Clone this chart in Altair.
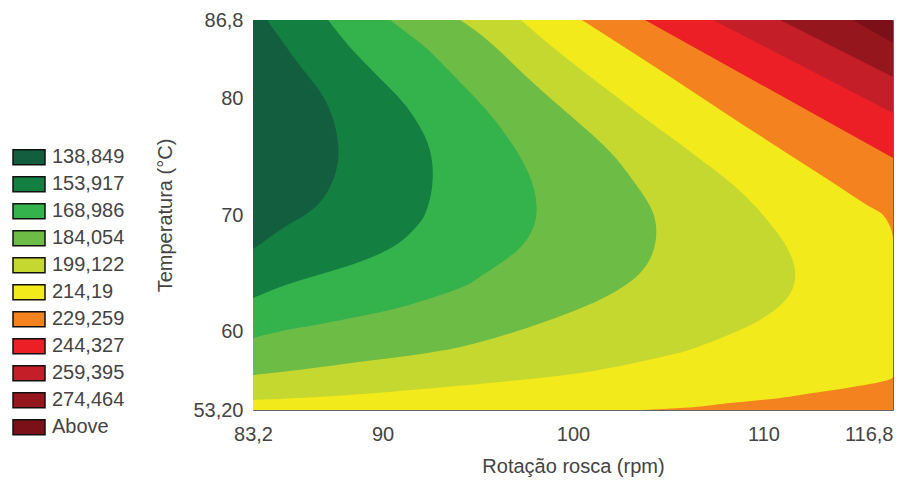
import altair as alt
import pandas as pd

X_MIN, X_MAX = 83.2, 116.8
Y_MIN, Y_MAX = 53.2, 86.8

levels = ["138,849", "153,917", "168,986", "184,054", "199,122", "214,19",
          "229,259", "244,327", "259,395", "274,464", "Above"]
colors = ["#125e3e", "#138041", "#34b24b", "#6dbc45", "#c4d830", "#f2ea1a",
          "#f4821f", "#ec1f26", "#c41e29", "#96161e", "#7a1118"]

# Boundary of each region "value <= level": rotation (x) reached at each temperature (y).
# Contours that leave through the left edge continue slightly past it (clipped).
b138_t = [65.5, 66.5, 67.67, 68.28, 69.14, 70.0, 71.12, 72.84, 74.31, 75.77, 78.01, 80.08, 81.46, 83.18, 84.39, 86.8]
b138_r = [81.9, 82.7, 83.73, 84.25, 84.99, 85.98, 86.82, 87.40, 87.66, 87.72, 87.51, 86.98, 86.35, 85.51, 84.99, 83.94]

b153_t = [61.8, 62.3, 63.11, 63.97, 64.83, 65.69, 66.55, 67.42, 68.28, 69.14, 70.0, 72.33, 74.31, 75.77, 77.15, 78.62, 80.08, 81.46, 82.92, 84.39, 86.8]
b153_r = [81.7, 82.4, 83.57, 84.83, 86.61, 88.40, 89.76, 90.76, 91.39, 91.86, 92.28, 92.65, 92.65, 92.49, 92.13, 91.60, 90.92, 90.03, 89.19, 88.29, 87.14]

b168_t = [58.3, 58.7, 59.40, 60.09, 60.52, 61.13, 61.64, 62.42, 63.80, 64.23, 65.69, 67.16, 68.54, 70.0, 72.33, 74.31, 75.77, 78.62, 81.46, 82.92, 84.39, 85.51, 86.8]
b168_r = [80.8, 81.6, 83.2, 84.78, 86.56, 88.29, 90.03, 91.81, 94.33, 94.70, 96.06, 97.32, 97.85, 98.16, 98.01, 97.48, 96.96, 95.75, 94.07, 93.18, 92.34, 91.44, 90.39]

b184_t = [55.7, 55.95, 56.22, 56.47, 57.25, 57.94, 58.63, 59.92, 61.39, 62.85, 64.23, 65.69, 67.16, 68.54, 70.0, 71.47, 72.84, 74.31, 75.77, 77.15, 78.62, 80.08, 81.46, 82.92, 84.39, 85.77, 86.8]
b184_r = [80.2, 81.6, 83.2, 84.78, 88.29, 91.81, 94.33, 96.96, 99.58, 101.68, 103.10, 103.94, 104.30, 104.41, 104.30, 103.83, 103.20, 102.57, 101.79, 100.84, 99.84, 98.79, 97.85, 96.90, 96.01, 95.01, 94.07]

b199_t = [53.75, 53.9, 54.06, 54.32, 54.75, 55.36, 55.79, 56.22, 56.65, 57.25, 58.11, 58.54, 59.92, 61.39, 62.85, 64.23, 65.69, 67.16, 68.54, 70.0, 71.47, 72.84, 74.31, 75.60, 77.07, 78.62, 81.46, 84.39, 86.8]
b199_r = [78.8, 81.0, 83.2, 86.72, 90.39, 94.59, 97.22, 99.74, 101.42, 103.26, 105.62, 106.41, 108.66, 110.34, 111.34, 111.71, 111.66, 111.29, 110.71, 109.98, 109.19, 108.24, 107.09, 106.04, 104.83, 103.52, 101.26, 98.95, 97.27]

b214_t = [53.2, 53.37, 53.81, 54.24, 54.67, 55.10, 56.04, 62.0, 67.85, 70.0, 70.86, 72.84, 75.77, 78.62, 81.80, 86.8]
b214_r = [103.68, 105.62, 108.24, 110.87, 112.60, 114.39, 116.8, 116.8, 116.8, 116.28, 115.43, 113.59, 110.81, 108.14, 105.20, 100.47]

b229_t = [53.2, 74.91, 86.8]
b229_r = [116.8, 116.8, 103.78]

b244_t = [53.2, 78.79, 86.8]
b244_r = [116.8, 116.8, 107.35]

b259_t = [53.2, 81.89, 86.8]
b259_r = [116.8, 116.8, 110.87]

b274_t = [53.2, 84.82, 86.8]
b274_r = [116.8, 116.8, 114.7]

above_t = [53.2, 86.8]
above_r = [116.8, 116.8]

bounds = {
    "138,849": (b138_t, b138_r), "153,917": (b153_t, b153_r),
    "168,986": (b168_t, b168_r), "184,054": (b184_t, b184_r),
    "199,122": (b199_t, b199_r), "214,19": (b214_t, b214_r),
    "229,259": (b229_t, b229_r), "244,327": (b244_t, b244_r),
    "259,395": (b259_t, b259_r), "274,464": (b274_t, b274_r),
    "Above": (above_t, above_r),
}
curve_kind = {"138,849": "basis", "153,917": "basis", "168,986": "basis",
              "184,054": "basis", "199,122": "basis", "214,19": "monotone"}

rows = []
for lev, (ts, rs) in bounds.items():
    for t, r in zip(ts, rs):
        rows.append({"level": lev, "temp": t, "rpm": r})
df = pd.DataFrame(rows).sort_values(["level", "temp"])

FONT = "Liberation Sans"
TXT = "#444444"
FS = 20

x_enc = alt.X("rpm:Q", stack=None,
              scale=alt.Scale(domain=[X_MIN, X_MAX], nice=False, zero=False),
              axis=alt.Axis(title="Rotação rosca (rpm)", values=[83.2, 90, 100, 110, 116.8],
                            labelExpr="datum.value < 84 ? '83,2' : datum.value > 116 ? '116,8' : datum.label",
                            labelFlush=False,
                            labelAlign=alt.expr("datum.value > 116 ? 'right' : 'center'"),
                            labelPadding=14, titlePadding=12))
y_enc = alt.Y("temp:Q",
              scale=alt.Scale(domain=[Y_MIN, Y_MAX], nice=False, zero=False),
              axis=alt.Axis(title="Temperatura (°C)", values=[53.2, 60, 70, 80, 86.8],
                            labelExpr="datum.value < 54 ? '53,20' : datum.value > 86 ? '86,8' : datum.label",
                            labelFlush=False, labelPadding=10, titlePadding=17))
c_enc = alt.Color("level:N",
                  scale=alt.Scale(domain=levels, range=colors),
                  legend=alt.Legend(orient="none", legendX=-241, legendY=124, title=None,
                                    symbolType="M-1,-0.47H1V0.47H-1Z", symbolSize=1024,
                                    symbolStrokeColor="#111", symbolStrokeWidth=1.5,
                                    labelFontSize=FS, labelColor=TXT, labelFont=FONT,
                                    labelOffset=6, clipHeight=26.6, rowPadding=0))

layers = []
for lev in reversed(levels):
    layers.append(
        alt.Chart(df).transform_filter(alt.datum.level == lev)
        .mark_area(orient="horizontal", interpolate=curve_kind.get(lev, "linear"), clip=True)
        .encode(y=y_enc, x=x_enc, x2=alt.datum(X_MIN), color=c_enc)
    )

chart = alt.layer(*layers).properties(
    width=640, height=390,
    autosize=alt.AutoSizeParams(type="none"),
    padding={"left": 245, "top": 12, "right": 11, "bottom": 68},
).configure_view(stroke="#666", strokeWidth=1).configure_axis(
    ticks=False, domain=False, grid=False,
    labelFontSize=FS, titleFontSize=FS, titleFontWeight="normal",
    labelFont=FONT, titleFont=FONT, labelColor=TXT, titleColor=TXT,
)

chart.save("out.html", embed_options={"renderer": "svg", "actions": False})
